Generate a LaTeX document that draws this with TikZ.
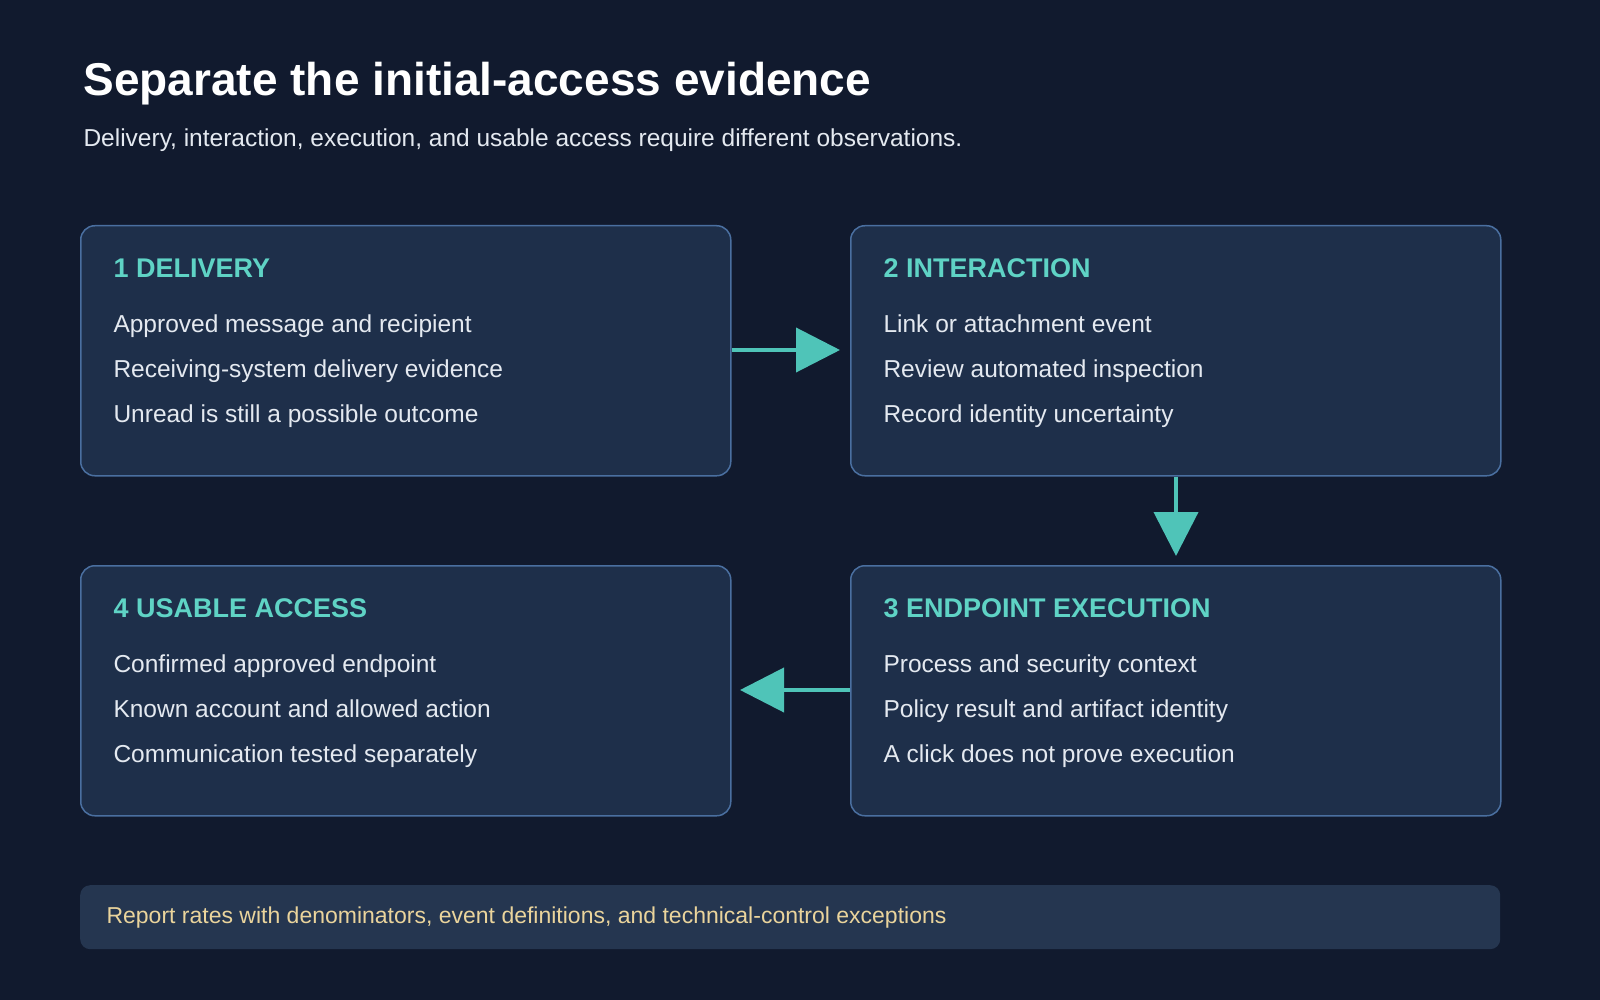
\documentclass[tikz,border=0pt]{standalone}
\usepackage{fontspec}
\setmainfont{Liberation Sans}
\usetikzlibrary{arrows.meta}
\definecolor{bg}{HTML}{111A2E}
\definecolor{boxfill}{HTML}{1E2F4A}
\definecolor{boxline}{HTML}{4A6FA0}
\definecolor{teal}{HTML}{5FD3C5}
\definecolor{arr}{HTML}{4FC4B8}
\definecolor{foot}{HTML}{253650}
\definecolor{foottext}{HTML}{EAD49C}
\definecolor{body}{HTML}{E4E9F0}
\begin{document}
\begin{tikzpicture}[x=1pt,y=-1pt,
  card/.style={draw=boxline,line width=1.5pt,fill=boxfill,rounded corners=14pt},
  head/.style={anchor=base west,text=teal,font=\fontsize{27}{30}\selectfont\bfseries},
  line/.style={anchor=base west,text=body,font=\fontsize{24.5}{28}\selectfont},
  flow/.style={draw=arr,line width=4pt,-{Triangle[length=44pt,width=44pt]}}]
\useasboundingbox (0,0) rectangle (1600,1000);
\fill[bg] (0,0) rectangle (1600,1000);
\node[anchor=base west,text=white,font=\fontsize{46}{50}\selectfont\bfseries] (title) at (80,96) {Separate the initial-access evidence};
\node[anchor=base west,text=body,font=\fontsize{24.5}{28}\selectfont] (sub) at (80,147) {Delivery, interaction, execution, and usable access require different observations.};
\node[card,minimum width=650pt,minimum height=250pt,anchor=north west] (b1) at (80,225) {};
\node[card,minimum width=650pt,minimum height=250pt,anchor=north west] (b2) at (850,225) {};
\node[card,minimum width=650pt,minimum height=250pt,anchor=north west] (b4) at (80,565) {};
\node[card,minimum width=650pt,minimum height=250pt,anchor=north west] (b3) at (850,565) {};
\node[head] (h1) at (110,277) {1 DELIVERY};
\node[line] (l11) at (110,332) {Approved message and recipient};
\node[line] (l12) at (110,377) {Receiving-system delivery evidence};
\node[line] (l13) at (110,422) {Unread is still a possible outcome};
\node[head] (h2) at (880,277) {2 INTERACTION};
\node[line] (l21) at (880,332) {Link or attachment event};
\node[line] (l22) at (880,377) {Review automated inspection};
\node[line] (l23) at (880,422) {Record identity uncertainty};
\node[head] (h3) at (880,617) {3 ENDPOINT EXECUTION};
\node[line] (l31) at (880,672) {Process and security context};
\node[line] (l32) at (880,717) {Policy result and artifact identity};
\node[line] (l33) at (880,762) {A click does not prove execution};
\node[head] (h4) at (110,617) {4 USABLE ACCESS};
\node[line] (l41) at (110,672) {Confirmed approved endpoint};
\node[line] (l42) at (110,717) {Known account and allowed action};
\node[line] (l43) at (110,762) {Communication tested separately};
\coordinate (e1) at (840,350);
\coordinate (e2) at (1176,556);
\coordinate (e3) at (740,690);
\draw[flow] (b1.east |- e1) -- (e1);
\draw[flow] (b2.south -| e2) -- (e2);
\draw[flow] (b3.west |- e3) -- (e3);
\node[fill=foot,rounded corners=10pt,minimum width=1420pt,minimum height=64pt,anchor=north west] (ft) at (80,885) {};
\node[anchor=west,text=foottext,font=\fontsize{23}{26}\selectfont] (ftt) at (103,918) {Report rates with denominators, event definitions, and technical-control exceptions};
\end{tikzpicture}
\end{document}
